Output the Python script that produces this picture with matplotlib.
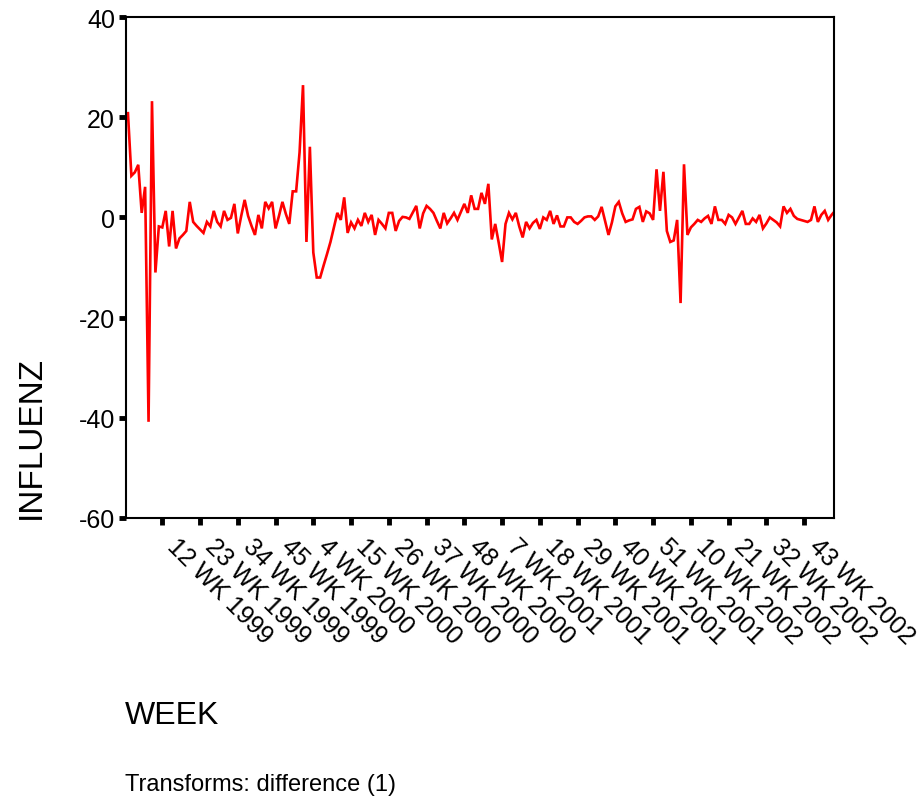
import matplotlib
matplotlib.use("Agg")
import matplotlib.pyplot as plt
import matplotlib.transforms as mtrans
import numpy as np

plt.rcParams['font.family'] = ['Liberation Sans', 'DejaVu Sans']

# week index: 1 = week 1 of 1999, 52 weeks per year; difference(1) drops week 1
first_week = 2
influenz_diff = [
    20.8, 8.3, 9.0, 10.5, 0.9, 6.1, -40.8, 23.2, -11.0, -1.8,
    -2.0, 1.3, -5.8, 1.3, -6.2, -4.2, -3.5, -2.7, 3.1, -0.9,
    -1.7, -2.4, -3.1, -0.9, -1.8, 1.3, -0.9, -1.8, 1.3, -0.5,
    -0.1, 2.7, -3.2, 0.3, 3.5, 0.3, -1.7, -3.5, 0.5, -2.2,
    3.1, 1.8, 3.1, -2.2, 0.3, 3.1, 0.7, -1.3, 5.2, 5.2,
    13.0, 26.4, -4.9, 14.1, -7.0, -12.0, -12.0, -9.6, -7.3, -4.9,
    -2.0, 0.9, -0.5, 4.0, -3.1, -1.0, -2.2, -0.5, -1.7, 0.9,
    -0.9, 0.5, -3.5, -0.5, -1.3, -2.2, 0.9, 0.9, -2.7, -0.7,
    0.1, 0.0, -0.3, 1.0, 2.3, -2.2, 0.8, 2.3, 1.7, 0.9,
    -0.7, -2.2, 0.9, -1.2, -0.2, 0.9, -0.5, 1.1, 2.7, 0.9,
    4.4, 1.7, 1.7, 4.9, 2.7, 6.7, -4.4, -1.3, -5.0, -8.9,
    -1.3, 0.9, -0.4, 0.9, -1.8, -4.0, -0.9, -2.2, -1.1, -0.5,
    -2.3, 0.0, -0.5, 1.3, -1.3, 0.4, -1.8, -1.8, 0.0, 0.0,
    -0.9, -1.3, -0.7, 0.0, 0.2, 0.2, -0.5, 0.2, 2.1, -0.7,
    -3.5, -1.0, 2.2, 3.1, 0.8, -0.9, -0.6, -0.4, 1.7, 2.1,
    -0.9, 1.2, 0.8, -0.5, 9.6, 1.3, 9.1, -2.7, -4.9, -4.6,
    -0.5, -17.1, 10.6, -3.5, -2.0, -1.3, -0.5, -0.9, -0.2, 0.3,
    -1.3, 2.2, -0.5, -0.5, -1.3, 0.5, 0.0, -1.3, 0.0, 1.3,
    -1.3, -1.3, -0.2, -0.9, 0.5, -2.2, -1.2, 0.0, -0.5, -1.0,
    -1.8, 2.2, 0.9, 1.7, 0.3, -0.3, -0.5, -0.7, -0.9, -0.5,
    2.2, -0.9, 0.5, 1.3, -0.5, 0.5, 1.3,
]
tick_weeks = [12, 23, 34, 45, 4, 15, 26, 37, 48, 7, 18, 29, 40, 51, 10, 21, 32, 43]
tick_years = [1999, 1999, 1999, 1999, 2000, 2000, 2000, 2000, 2000,
              2001, 2001, 2001, 2001, 2001, 2002, 2002, 2002, 2002]
yticks = [40, 20, 0, -20, -40, -60]

weeks = np.arange(first_week, first_week + len(influenz_diff))
tick_pos = [(y - 1999) * 52 + w for w, y in zip(tick_weeks, tick_years)]
tick_lab = ['%d WK %d' % (w, y) for w, y in zip(tick_weeks, tick_years)]

fig = plt.figure(figsize=(9.22, 8.04), dpi=100)
ax = fig.add_axes([126/922, 1-519/804, 708/922, 501/804])

ax.plot(weeks, influenz_diff, color='#ff0000', linewidth=1.9, solid_joinstyle='miter')

ax.set_xlim(1.43, 207.7)
ax.set_ylim(-60, 40)
ax.set_yticks(yticks)
ax.set_yticklabels([str(v) for v in yticks], fontsize=18)
ax.set_xticks(tick_pos)
ax.set_xticklabels([])

# slanted week labels, hung just right of each tick
off = mtrans.ScaledTranslation(6.5/72, -17/72, fig.dpi_scale_trans)
for p, lab in zip(tick_pos, tick_lab):
    ax.text(p, 0, lab, transform=ax.get_xaxis_transform() + off, fontsize=18,
            rotation=-45, rotation_mode='anchor', ha='left', va='center', clip_on=False)

for s in ax.spines.values():
    s.set_linewidth(1.5)
    s.set_color('black')
ax.tick_params(axis='both', direction='out', length=5, width=3.5, color='black', pad=3)

fig.text(31/922, 1-519/804, 'INFLUENZ', rotation=90, ha='center', va='bottom', fontsize=24)
fig.text(125/922, 1-716/804, 'WEEK', ha='left', va='center', fontsize=23)
fig.text(125/922, 1-785/804, 'Transforms: difference (1)', ha='left', va='center', fontsize=17)

fig.savefig('out.png', dpi=100)
